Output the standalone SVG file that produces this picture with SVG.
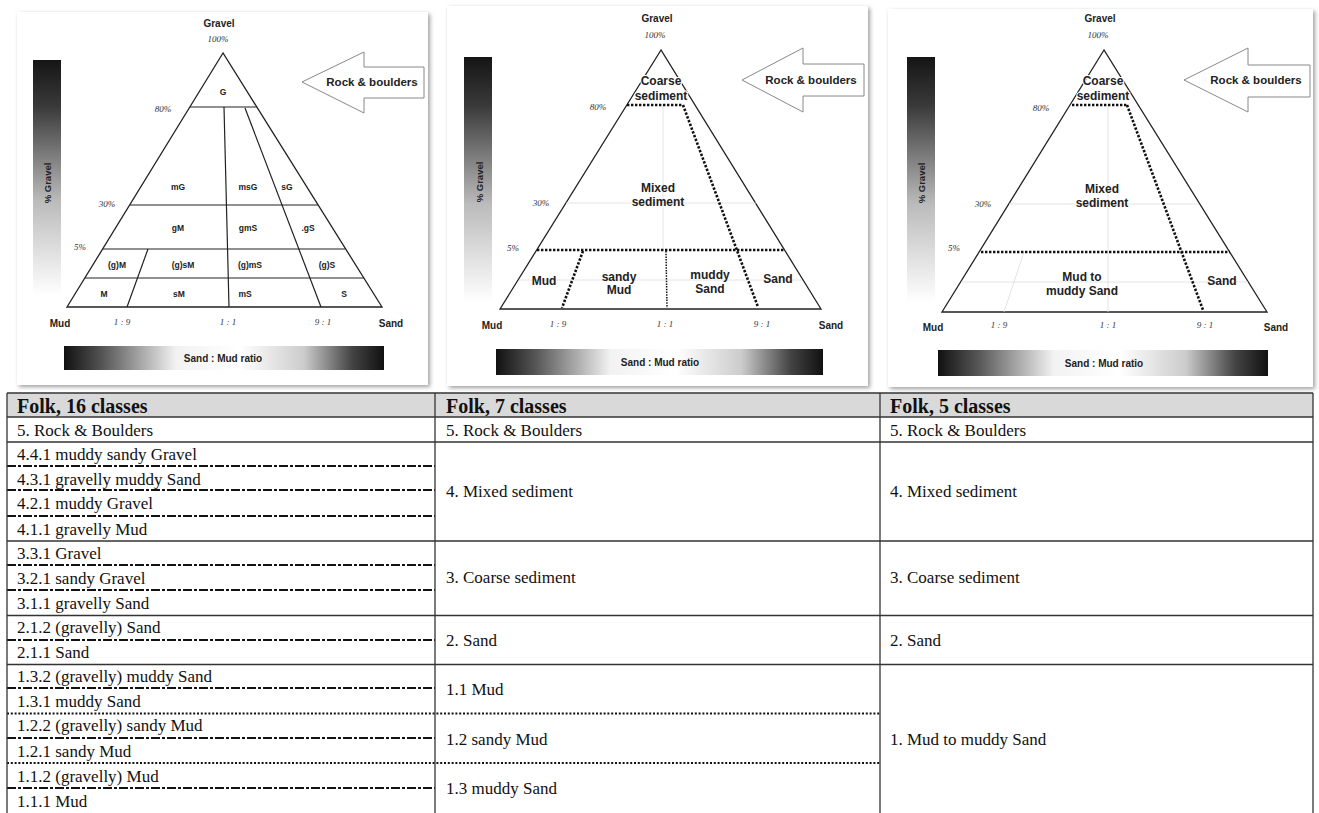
<svg xmlns="http://www.w3.org/2000/svg" width="1319" height="813" viewBox="0 0 1319 813">
<style>
.lbl{font-family:"Liberation Sans",Arial,sans-serif;font-weight:bold;fill:#222;text-anchor:middle}
.sm{font-size:8.5px}
.md{font-size:12px}
.ax{font-size:10px}
.pct{font-family:"Liberation Serif","Times New Roman",serif;font-style:italic;font-size:9px;fill:#333;text-anchor:middle}
.tri{fill:#fff;stroke:#222;stroke-width:1.3}
.ln{stroke:#222;stroke-width:1.2;fill:none}
.faint{stroke:#ddd;stroke-width:0.8;fill:none}
.dot{stroke:#111;stroke-width:2.6;stroke-dasharray:2.4 1.6;fill:none}
.dotthin{stroke:#111;stroke-width:1.5;stroke-dasharray:1.5 1.2;fill:none}
.arrow{fill:#fff;stroke:#888;stroke-width:1}
.halo{paint-order:stroke;stroke:#fff;stroke-width:2}
.tt{font-family:"Liberation Serif","Times New Roman",serif;font-size:17px;fill:#111}
.th{font-family:"Liberation Serif","Times New Roman",serif;font-size:20px;font-weight:bold;fill:#111}
.solid{stroke:#333;stroke-width:1.3}
.dash{stroke:#111;stroke-width:2;stroke-dasharray:9 2 3 2}
.tdot{stroke:#111;stroke-width:1.8;stroke-dasharray:2 1.8}
</style>
<defs>
<linearGradient id="vg" x1="0" y1="0" x2="0" y2="1">
<stop offset="0" stop-color="#151515"/>
<stop offset="0.2" stop-color="#3a3a3a"/>
<stop offset="0.6" stop-color="#bbb"/>
<stop offset="1" stop-color="#fff"/>
</linearGradient>
<linearGradient id="hg" x1="0" y1="0" x2="1" y2="0">
<stop offset="0" stop-color="#111"/>
<stop offset="0.12" stop-color="#555"/>
<stop offset="0.35" stop-color="#f2f2f2"/>
<stop offset="0.55" stop-color="#fff"/>
<stop offset="0.75" stop-color="#ccc"/>
<stop offset="0.9" stop-color="#444"/>
<stop offset="1" stop-color="#111"/>
</linearGradient>
<filter id="sh" x="-5%" y="-5%" width="110%" height="110%">
<feDropShadow dx="2" dy="2" stdDeviation="2" flood-color="#888" flood-opacity="0.8"/>
</filter>
</defs>
<rect width="1319" height="813" fill="#fff"/>

<!-- Panel 1 -->
<g id="panel1">
<rect x="17" y="12" width="411" height="373" fill="#fff" filter="url(#sh)"/>
<rect x="33" y="60" width="28" height="235" fill="url(#vg)"/>
<text class="lbl" font-size="9.5" transform="translate(51,183) rotate(-90)">% Gravel</text>
<rect x="64" y="346" width="320" height="24" fill="url(#hg)"/>
<text class="lbl ax" x="223" y="362" fill="#333">Sand : Mud ratio</text>
<polygon class="arrow" points="302,82 364,52 364,67 424,67 424,98 364,98 364,113"/>
<text class="lbl" font-size="11.5" x="372" y="86">Rock &amp; boulders</text>
<text class="lbl ax" x="219" y="27">Gravel</text>
<text class="pct" x="218" y="42">100%</text>
<text class="pct" x="163" y="112">80%</text>
<text class="pct" x="107" y="207">30%</text>
<text class="pct" x="80" y="250">5%</text>
<polygon class="tri" points="223,53 67,307 382,307"/>
<line class="ln" x1="190" y1="107" x2="257" y2="107"/>
<line class="ln" x1="130" y1="205" x2="318" y2="205"/>
<line class="ln" x1="103" y1="249" x2="345" y2="249"/>
<line class="ln" x1="85" y1="278" x2="364" y2="278"/>
<line class="ln" x1="224" y1="107" x2="229" y2="307"/>
<line class="ln" x1="245" y1="108" x2="321" y2="307"/>
<line class="ln" x1="148" y1="249" x2="127" y2="307"/>
<text class="lbl sm" x="223" y="95">G</text>
<text class="lbl sm" x="178" y="190">mG</text>
<text class="lbl sm" x="248" y="190">msG</text>
<text class="lbl sm" x="287" y="190">sG</text>
<text class="lbl sm" x="178" y="231">gM</text>
<text class="lbl sm" x="248" y="231">gmS</text>
<text class="lbl sm" x="308" y="231">.gS</text>
<text class="lbl sm" x="117" y="268">(g)M</text>
<text class="lbl sm" x="183" y="268">(g)sM</text>
<text class="lbl sm" x="250" y="268">(g)mS</text>
<text class="lbl sm" x="327" y="268">(g)S</text>
<text class="lbl sm" x="104" y="297">M</text>
<text class="lbl sm" x="179" y="297">sM</text>
<text class="lbl sm" x="245" y="297">mS</text>
<text class="lbl sm" x="344" y="297">S</text>
<text class="lbl ax" x="60" y="327">Mud</text>
<text class="lbl ax" x="391" y="327">Sand</text>
<text class="pct" x="122" y="325">1 : 9</text>
<text class="pct" x="228" y="325">1 : 1</text>
<text class="pct" x="323" y="325">9 : 1</text>
</g>

<!-- Panel 2 -->
<g id="panel2">
<rect x="447" y="6" width="421" height="380" fill="#fff" filter="url(#sh)"/>
<rect x="464" y="57" width="28" height="245" fill="url(#vg)"/>
<text class="lbl" font-size="9.5" transform="translate(483,182) rotate(-90)">% Gravel</text>
<rect x="496" y="349" width="327" height="26" fill="url(#hg)"/>
<text class="lbl ax" x="660" y="366" fill="#333">Sand : Mud ratio</text>
<polygon class="arrow" points="742,80 803,48 803,64 864,64 864,96 803,96 803,112"/>
<text class="lbl" font-size="11.5" x="811" y="84">Rock &amp; boulders</text>
<text class="lbl ax" x="657" y="22">Gravel</text>
<text class="pct" x="655" y="38">100%</text>
<text class="pct" x="598" y="110">80%</text>
<text class="pct" x="541" y="206">30%</text>
<text class="pct" x="513" y="251">5%</text>
<polygon class="tri" points="661,50 500,309 821,309"/>
<line class="faint" x1="663" y1="105" x2="663" y2="250"/>
<line class="faint" x1="566" y1="203" x2="756" y2="203"/>
<line class="faint" x1="519" y1="280" x2="802" y2="280"/>
<line class="dot" x1="627" y1="105" x2="683" y2="105"/>
<line class="dot" x1="683" y1="105" x2="758" y2="307"/>
<line class="dot" x1="537" y1="250" x2="785" y2="250"/>
<line class="dot" x1="583" y1="251" x2="562" y2="308"/>
<line class="dotthin" x1="666" y1="251" x2="667" y2="308"/>
<text class="lbl md halo" x="661" y="85">Coarse</text>
<text class="lbl md halo" x="661" y="100">sediment</text>
<text class="lbl md" x="658" y="192">Mixed</text>
<text class="lbl md" x="658" y="206">sediment</text>
<text class="lbl md" x="544" y="285">Mud</text>
<text class="lbl md" x="619" y="281">sandy</text>
<text class="lbl md" x="619" y="294">Mud</text>
<text class="lbl md" x="710" y="279">muddy</text>
<text class="lbl md" x="710" y="293">Sand</text>
<text class="lbl md" x="778" y="283">Sand</text>
<text class="lbl ax" x="492" y="329">Mud</text>
<text class="lbl ax" x="831" y="329">Sand</text>
<text class="pct" x="558" y="327">1 : 9</text>
<text class="pct" x="665" y="327">1 : 1</text>
<text class="pct" x="762" y="327">9 : 1</text>
</g>

<!-- Panel 3 -->
<g id="panel3">
<rect x="888" y="9" width="425" height="378" fill="#fff" filter="url(#sh)"/>
<rect x="907" y="57" width="28" height="245" fill="url(#vg)"/>
<text class="lbl" font-size="9.5" transform="translate(925,183) rotate(-90)">% Gravel</text>
<rect x="938" y="350" width="330" height="26" fill="url(#hg)"/>
<text class="lbl ax" x="1104" y="367" fill="#333">Sand : Mud ratio</text>
<polygon class="arrow" points="1184,80 1248,48 1248,65 1310,65 1310,97 1248,97 1248,112"/>
<text class="lbl" font-size="11.5" x="1256" y="84">Rock &amp; boulders</text>
<text class="lbl ax" x="1100" y="22">Gravel</text>
<text class="pct" x="1098" y="38">100%</text>
<text class="pct" x="1041" y="111">80%</text>
<text class="pct" x="983" y="207">30%</text>
<text class="pct" x="954" y="251">5%</text>
<polygon class="tri" points="1104,50 942,312 1267,312"/>
<line class="faint" x1="1108" y1="105" x2="1108" y2="312"/>
<line class="faint" x1="1009" y1="204" x2="1199" y2="204"/>
<line class="faint" x1="961" y1="282" x2="1248" y2="282"/>
<line class="faint" x1="1024" y1="252" x2="1004" y2="312"/>
<line class="dot" x1="1072" y1="105" x2="1127" y2="105"/>
<line class="dot" x1="1127" y1="105" x2="1203" y2="310"/>
<line class="dot" x1="981" y1="252" x2="1230" y2="252"/>
<text class="lbl md halo" x="1103" y="85">Coarse</text>
<text class="lbl md halo" x="1103" y="100">sediment</text>
<text class="lbl md" x="1102" y="193">Mixed</text>
<text class="lbl md" x="1102" y="207">sediment</text>
<text class="lbl md" x="1082" y="281">Mud to</text>
<text class="lbl md" x="1082" y="295">muddy Sand</text>
<text class="lbl md" x="1222" y="285">Sand</text>
<text class="lbl ax" x="933" y="331">Mud</text>
<text class="lbl ax" x="1276" y="331">Sand</text>
<text class="pct" x="999" y="328">1 : 9</text>
<text class="pct" x="1108" y="328">1 : 1</text>
<text class="pct" x="1205" y="328">9 : 1</text>
</g>

<!-- Table -->
<g id="table">
<rect x="7" y="393" width="1306" height="24" fill="#d9d9d9"/>
<g id="table-lines">
<line class="solid" x1="7" y1="393" x2="1313" y2="393"/>
<line class="solid" x1="7" y1="417" x2="1313" y2="417"/>
<line class="solid" x1="7" y1="442" x2="1313" y2="442"/>
<line class="solid" x1="7" y1="541" x2="1313" y2="541"/>
<line class="solid" x1="7" y1="615.5" x2="1313" y2="615.5"/>
<line class="solid" x1="7" y1="664.5" x2="1313" y2="664.5"/>
<line class="dash" x1="7" y1="466" x2="435" y2="466"/>
<line class="dash" x1="7" y1="490" x2="435" y2="490"/>
<line class="dash" x1="7" y1="516" x2="435" y2="516"/>
<line class="dash" x1="7" y1="565" x2="435" y2="565"/>
<line class="dash" x1="7" y1="590" x2="435" y2="590"/>
<line class="dash" x1="7" y1="640" x2="435" y2="640"/>
<line class="dash" x1="7" y1="688" x2="435" y2="688"/>
<line class="dash" x1="7" y1="738" x2="435" y2="738"/>
<line class="dash" x1="7" y1="788" x2="435" y2="788"/>
<line class="tdot" x1="7" y1="713.5" x2="880" y2="713.5"/>
<line class="tdot" x1="7" y1="763" x2="880" y2="763"/>
<line class="solid" x1="7" y1="393" x2="7" y2="813"/>
<line class="solid" x1="435" y1="393" x2="435" y2="813"/>
<line class="solid" x1="880" y1="393" x2="880" y2="813"/>
<line class="solid" x1="1313" y1="393" x2="1313" y2="813"/>
</g>
<g id="col1">
<text class="th" x="17" y="413">Folk, 16 classes</text>
<text class="tt" x="17" y="436">5. Rock &amp; Boulders</text>
<text class="tt" x="17" y="460">4.4.1 muddy sandy Gravel</text>
<text class="tt" x="17" y="485">4.3.1 gravelly muddy Sand</text>
<text class="tt" x="17" y="509">4.2.1 muddy Gravel</text>
<text class="tt" x="17" y="535">4.1.1 gravelly Mud</text>
<text class="tt" x="17" y="559">3.3.1 Gravel</text>
<text class="tt" x="17" y="584">3.2.1 sandy Gravel</text>
<text class="tt" x="17" y="609">3.1.1 gravelly Sand</text>
<text class="tt" x="17" y="633">2.1.2 (gravelly) Sand</text>
<text class="tt" x="17" y="658">2.1.1 Sand</text>
<text class="tt" x="17" y="682">1.3.2 (gravelly) muddy Sand</text>
<text class="tt" x="17" y="707">1.3.1 muddy Sand</text>
<text class="tt" x="17" y="731">1.2.2 (gravelly) sandy Mud</text>
<text class="tt" x="17" y="757">1.2.1 sandy Mud</text>
<text class="tt" x="17" y="782">1.1.2 (gravelly) Mud</text>
<text class="tt" x="17" y="807">1.1.1 Mud</text>
</g>
<g id="col2">
<text class="th" x="446" y="413">Folk, 7 classes</text>
<text class="tt" x="446" y="436">5. Rock &amp; Boulders</text>
<text class="tt" x="446" y="497">4. Mixed sediment</text>
<text class="tt" x="446" y="583">3. Coarse sediment</text>
<text class="tt" x="446" y="646">2. Sand</text>
<text class="tt" x="446" y="695">1.1 Mud</text>
<text class="tt" x="446" y="745">1.2 sandy Mud</text>
<text class="tt" x="446" y="794">1.3 muddy Sand</text>
</g>
<g id="col3">
<text class="th" x="890" y="413">Folk, 5 classes</text>
<text class="tt" x="890" y="436">5. Rock &amp; Boulders</text>
<text class="tt" x="890" y="497">4. Mixed sediment</text>
<text class="tt" x="890" y="583">3. Coarse sediment</text>
<text class="tt" x="890" y="646">2. Sand</text>
<text class="tt" x="890" y="745">1. Mud to muddy Sand</text>
</g>
</g>
</svg>
